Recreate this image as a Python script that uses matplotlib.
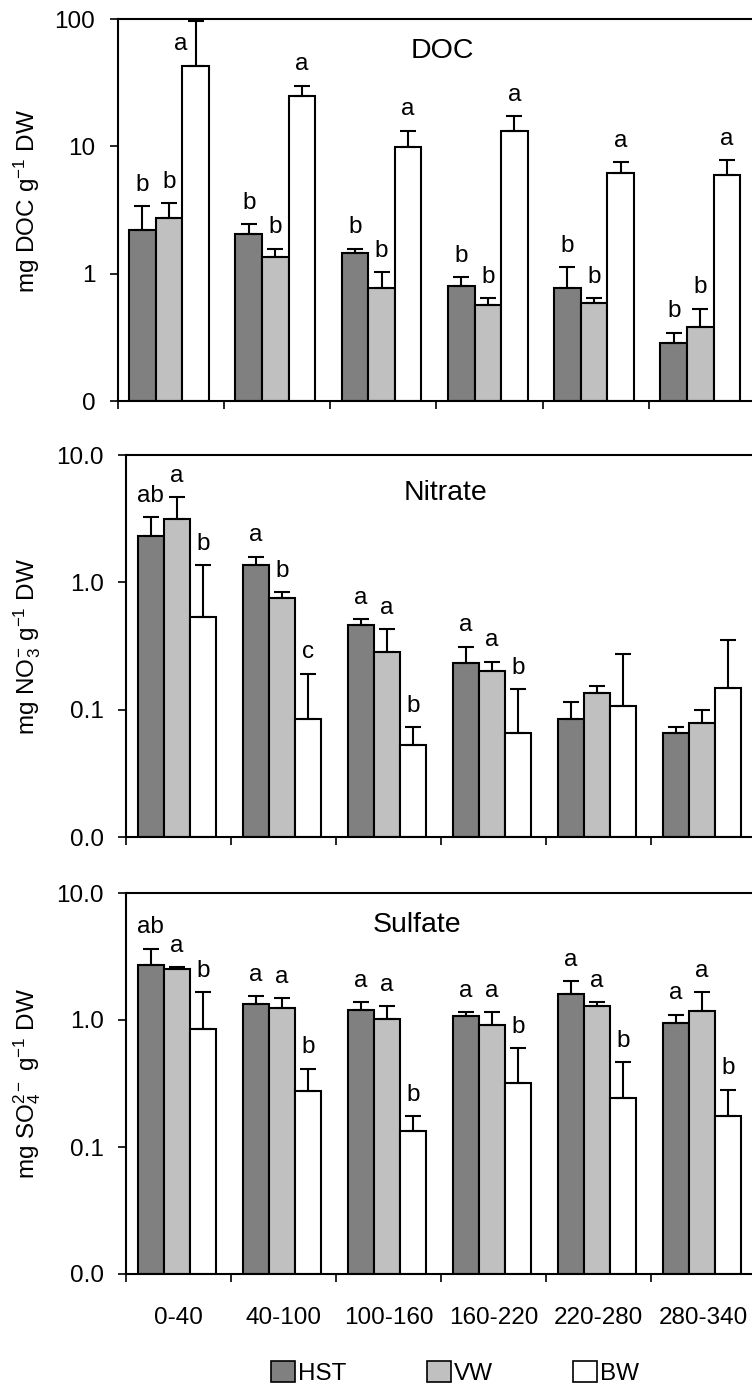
import numpy as np
import matplotlib
matplotlib.use('Agg')
import matplotlib.pyplot as plt
from matplotlib.patches import Patch
from matplotlib.ticker import FixedLocator, FixedFormatter, NullLocator

plt.rcParams['font.family'] = ['Liberation Sans', 'DejaVu Sans']
plt.rcParams['mathtext.fontset'] = 'custom'
plt.rcParams['mathtext.rm'] = 'Liberation Sans'
plt.rcParams['mathtext.it'] = 'Liberation Sans:italic'

# Tiefenstufen und Varianten
depths = ['0-40', '40-100', '100-160', '160-220', '220-280', '280-340']
treatments = ['HST', 'VW', 'BW']
colors = ['#808080', '#c0c0c0', '#ffffff']

# DOC (mg g-1 DW)
doc_hst = [2.2, 2.05, 1.45, 0.80, 0.77, 0.285]
doc_vw = [2.75, 1.35, 0.77, 0.57, 0.59, 0.38]
doc_bw = [42.5, 25.0, 9.8, 13.3, 6.2, 6.0]
doc_hst_se = [1.2, 0.39, 0.12, 0.14, 0.35, 0.06]
doc_vw_se = [0.85, 0.22, 0.26, 0.07, 0.05, 0.15]
doc_bw_se = [54.5, 5.0, 3.5, 3.9, 1.3, 1.8]
doc_hst_let = ['b', 'b', 'b', 'b', 'b', 'b']
doc_vw_let = ['b', 'b', 'b', 'b', 'b', 'b']
doc_bw_let = ['a', 'a', 'a', 'a', 'a', 'a']

# Nitrat
no3_hst = [2.32, 1.37, 0.46, 0.234, 0.085, 0.066]
no3_vw = [3.12, 0.747, 0.285, 0.203, 0.134, 0.079]
no3_bw = [0.536, 0.085, 0.0526, 0.0657, 0.107, 0.149]
no3_hst_se = [0.92, 0.22, 0.054, 0.078, 0.029, 0.007]
no3_vw_se = [1.56, 0.096, 0.142, 0.035, 0.020, 0.021]
no3_bw_se = [0.824, 0.107, 0.0207, 0.0793, 0.168, 0.205]
no3_hst_let = ['ab', 'a', 'a', 'a', '', '']
no3_vw_let = ['a', 'b', 'a', 'a', '', '']
no3_bw_let = ['b', 'c', 'b', 'b', '', '']

# Sulfat
so4_hst = [2.73, 1.33, 1.19, 1.07, 1.60, 0.947]
so4_vw = [2.52, 1.24, 1.02, 0.908, 1.28, 1.18]
so4_bw = [0.845, 0.274, 0.133, 0.317, 0.243, 0.174]
so4_hst_se = [0.92, 0.21, 0.19, 0.08, 0.41, 0.153]
so4_vw_se = [0.09, 0.25, 0.26, 0.242, 0.10, 0.47]
so4_bw_se = [0.805, 0.14, 0.041, 0.283, 0.222, 0.109]
so4_hst_let = ['ab', 'a', 'a', 'a', 'a', 'a']
so4_vw_let = ['a', 'a', 'a', 'a', 'a', 'a']
so4_bw_let = ['b', 'b', 'b', 'b', 'b', 'b']

FS = 17.5
FS_TITLE = 20.5
W, H = 752, 1386
fig = plt.figure(figsize=(W / 100, H / 100), dpi=100)


def px_axes(left, top, right, bottom):
    return fig.add_axes([left / W, 1 - bottom / H, (right - left) / W, (bottom - top) / H])


def draw_panel(ax, means, ses, letters, ylim, yticks, yticklabels, title, title_xy, ylabel):
    n = len(depths)
    x = np.arange(n)
    width = 0.25
    for i in range(3):
        xi = x + (i - 1) * width - 0.015
        m = np.array(means[i])
        se = np.array(ses[i])
        ax.bar(xi, m - ylim[0], width, bottom=ylim[0], color=colors[i],
               edgecolor='black', linewidth=1.5, zorder=2)
        ax.errorbar(xi, m, yerr=[np.zeros(n), se], fmt='none', ecolor='black',
                    elinewidth=1.5, capsize=6, capthick=1.5, zorder=3)
        for j in range(n):
            if not letters[i][j]:
                continue
            top = m[j] + se[j]
            if top > ylim[1] / 2:
                # kein Platz ueber dem Fehlerbalken -> links neben den Balken
                ax.annotate(letters[i][j], (xi[j], m[j]), xytext=(-11, 12),
                            textcoords='offset points', ha='center', va='baseline',
                            fontsize=FS)
            else:
                ax.annotate(letters[i][j], (xi[j], top), xytext=(0, 11),
                            textcoords='offset points', ha='center', va='baseline',
                            fontsize=FS)

    ax.set_yscale('log')
    ax.set_ylim(*ylim)
    ax.set_xlim(-0.5, n - 0.5)
    ax.yaxis.set_major_locator(FixedLocator(yticks))
    ax.yaxis.set_major_formatter(FixedFormatter(yticklabels))
    ax.yaxis.set_minor_locator(NullLocator())
    ax.xaxis.set_major_locator(FixedLocator(np.arange(n) - 0.5))
    ax.xaxis.set_major_formatter(FixedFormatter([''] * n))
    ax.xaxis.set_minor_locator(FixedLocator(x))
    ax.xaxis.set_minor_formatter(FixedFormatter([''] * n))
    ax.tick_params(axis='both', which='major', direction='out', length=6, width=1.2,
                   labelsize=FS, pad=10)
    ax.tick_params(axis='x', which='minor', length=0, labelsize=FS, pad=24)
    for s in ['left', 'top', 'bottom']:
        ax.spines[s].set_linewidth(1.5)
    ax.spines['right'].set_visible(False)
    ax.text(title_xy[0], title_xy[1], title, transform=ax.transAxes,
            ha='center', va='center', fontsize=FS_TITLE)
    ax.set_ylabel(ylabel, fontsize=FS)


ax1 = px_axes(117.5, 19, 755, 401)
draw_panel(ax1, [doc_hst, doc_vw, doc_bw], [doc_hst_se, doc_vw_se, doc_bw_se],
           [doc_hst_let, doc_vw_let, doc_bw_let], (0.1, 100), [0.1, 1, 10, 100],
           ['0', '1', '10', '100'], 'DOC', (0.510, 0.917), 'mg DOC g$^{-1}$ DW')
ax1.yaxis.set_label_coords((27 - 117.5) / (755 - 117.5), 0.524)

ax2 = px_axes(126, 455, 756, 837)
draw_panel(ax2, [no3_hst, no3_vw, no3_bw], [no3_hst_se, no3_vw_se, no3_bw_se],
           [no3_hst_let, no3_vw_let, no3_bw_let], (0.01, 10), [0.01, 0.1, 1, 10],
           ['0.0', '0.1', '1.0', '10.0'], 'Nitrate', (0.507, 0.90),
           'mg NO$_3^{-}$ g$^{-1}$ DW')
ax2.yaxis.set_label_coords((27 - 126) / 630, 0.5)

ax3 = px_axes(126, 893, 756, 1274)
draw_panel(ax3, [so4_hst, so4_vw, so4_bw], [so4_hst_se, so4_vw_se, so4_bw_se],
           [so4_hst_let, so4_vw_let, so4_bw_let], (0.01, 10), [0.01, 0.1, 1, 10],
           ['0.0', '0.1', '1.0', '10.0'], 'Sulfate', (0.462, 0.916),
           'mg SO$_4^{2-}$ g$^{-1}$ DW')
ax3.yaxis.set_label_coords((27 - 126) / 630, 0.5)
ax3.xaxis.set_minor_formatter(FixedFormatter(depths))

for a in (ax1, ax2, ax3):
    a.yaxis.label.set_va('center')

handles = [Patch(facecolor=colors[i], edgecolor='black', linewidth=1.2, label=treatments[i])
           for i in range(3)]
fig.legend(handles=handles, loc='center', bbox_to_anchor=(455 / W, 1 - 1373 / H),
           ncol=3, frameon=False, fontsize=FS, handlelength=1.0, handleheight=0.95,
           handletextpad=0.12, columnspacing=3.3, borderpad=0, borderaxespad=0)

fig.savefig('out.png', dpi=100)
